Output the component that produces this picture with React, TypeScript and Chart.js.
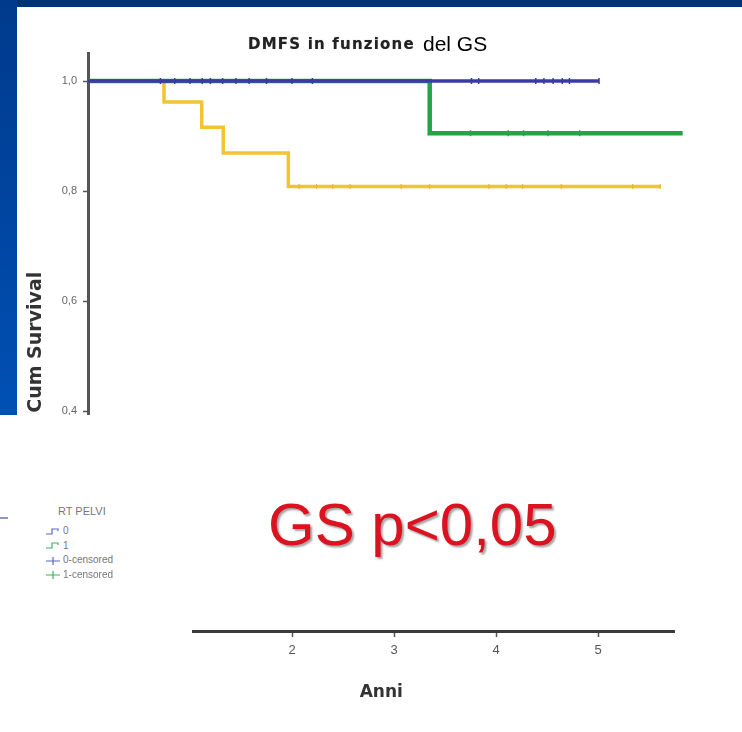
import React, { useEffect, useRef } from 'react';
import { Chart, registerables } from 'chart.js';

Chart.register(...registerables);

const FONT = '"Liberation Sans", Arial, sans-serif';
const BOLD_FONT = '"DejaVu Sans", sans-serif';

// Axis ticks
const yTickValues = [0, 0.2, 0.4, 0.6, 0.8, 1.0];
const xTickValues = [0, 1, 2, 3, 4, 5];

// Kaplan-Meier step curves (time in years, cumulative survival)
const blueTimes = [0, 5.01];
const blueSurv = [1, 1];
const greenTimes = [0, 3.35, 5.83];
const greenSurv = [1, 0.905, 0.905];
const yellowTimes = [0, 0.745, 1.115, 1.326, 1.964, 5.61];
const yellowSurv = [1, 0.962, 0.916, 0.869, 0.808, 0.808];

// Censoring times
const blueCensorTimes = [0.71, 0.85, 1.0, 1.12, 1.2, 1.32, 1.45, 1.58, 1.75, 2.0, 2.2, 3.76, 3.83, 4.39, 4.47, 4.56, 4.65, 4.72, 5.01];
const greenCensorTimes = [3.75, 4.12, 4.27, 4.51, 4.82];
const yellowCensorTimes = [2.07, 2.24, 2.4, 2.57, 3.07, 3.35, 3.93, 4.1, 4.26, 4.64, 5.34, 5.61];

const BLUE = '#3a3aa6';
const GREEN = '#22a447';
const YELLOW = '#f3c332';

function curve(times: number[], surv: number[]) {
  return times.map((t, i) => ({ x: t, y: surv[i] }));
}

function survAt(times: number[], surv: number[], t: number) {
  let s = surv[0];
  for (let i = 0; i < times.length; i++) {
    if (times[i] <= t) s = surv[i];
  }
  return s;
}

function censor(times: number[], surv: number[], cts: number[]) {
  return cts.map((t) => ({ x: t, y: survAt(times, surv, t) }));
}

function StepIcon({ color }: { color: string }) {
  return (
    <svg width="15" height="9" style={{ display: 'inline-block', verticalAlign: 'middle', marginRight: 2 }}>
      <path d="M0,7 H6 V2 H12 V4" stroke={color} strokeWidth="1.2" fill="none" />
    </svg>
  );
}

function CensorIcon({ color }: { color: string }) {
  return (
    <svg width="15" height="9" style={{ display: 'inline-block', verticalAlign: 'middle', marginRight: 2 }}>
      <path d="M0,5 H14 M7,1 V9" stroke={color} strokeWidth="1.2" fill="none" />
    </svg>
  );
}

export default function App() {
  const ref = useRef<HTMLCanvasElement | null>(null);

  useEffect(() => {
    document.body.style.margin = '0';
    if (!ref.current) return;
    const chart = new Chart(ref.current, {
      type: 'scatter',
      data: {
        datasets: [
          {
            label: '0',
            data: curve(blueTimes, blueSurv),
            showLine: true,
            stepped: 'before',
            borderColor: BLUE,
            borderWidth: 3.5,
            pointRadius: 0,
            order: 1,
          },
          {
            label: '0-censored',
            data: censor(blueTimes, blueSurv, blueCensorTimes),
            showLine: false,
            pointStyle: 'line',
            rotation: 90,
            pointRadius: 3,
            borderColor: BLUE,
            backgroundColor: BLUE,
            borderWidth: 1.5,
            order: 0,
          },
          {
            label: '1',
            data: curve(greenTimes, greenSurv),
            showLine: true,
            stepped: 'before',
            borderColor: GREEN,
            borderWidth: 4.5,
            pointRadius: 0,
            clip: false,
            order: 3,
          },
          {
            label: '1-censored',
            data: censor(greenTimes, greenSurv, greenCensorTimes),
            showLine: false,
            pointStyle: 'line',
            rotation: 90,
            pointRadius: 3,
            borderColor: GREEN,
            backgroundColor: GREEN,
            borderWidth: 1.5,
            order: 2,
          },
          {
            label: '2',
            data: curve(yellowTimes, yellowSurv),
            showLine: true,
            stepped: 'before',
            borderColor: YELLOW,
            borderWidth: 3.5,
            pointRadius: 0,
            order: 5,
          },
          {
            label: '2-censored',
            data: censor(yellowTimes, yellowSurv, yellowCensorTimes),
            showLine: false,
            pointStyle: 'line',
            rotation: 90,
            pointRadius: 2.5,
            borderColor: '#e8b830',
            backgroundColor: '#e8b830',
            borderWidth: 1.2,
            order: 4,
          },
        ],
      },
      options: {
        animation: false,
        responsive: false,
        maintainAspectRatio: false,
        layout: { padding: { top: 53.5, right: 67.5, bottom: 0, left: 0 } },
        plugins: {
          legend: { display: false },
          tooltip: { enabled: false },
          title: { display: false },
        },
        scales: {
          x: {
            type: 'linear',
            min: 0,
            max: 5.75,
            afterBuildTicks: (s: any) => {
              s.ticks = xTickValues.map((v) => ({ value: v }));
            },
            afterFit: (s: any) => {
              s.height = 101;
            },
            grid: {
              display: true,
              drawOnChartArea: false,
              drawTicks: true,
              tickLength: 6,
              tickWidth: 1.5,
              tickColor: '#555',
            },
            border: { display: true, color: '#3a3a3a', width: 3 },
            ticks: {
              color: '#555',
              font: { size: 13, family: FONT },
              padding: 6,
              maxRotation: 0,
              autoSkip: false,
              callback: (v: any) => String(v),
            },
            title: {
              display: true,
              text: 'Anni',
              color: '#333',
              font: { size: 17, weight: 'bold', family: BOLD_FONT },
              padding: { top: 0, bottom: 29 },
            },
          },
          y: {
            type: 'linear',
            min: 0,
            max: 1.05,
            afterBuildTicks: (s: any) => {
              s.ticks = yTickValues.map((v) => ({ value: v }));
            },
            afterFit: (s: any) => {
              s.width = 88;
            },
            grid: {
              display: true,
              drawOnChartArea: false,
              drawTicks: true,
              tickLength: 5,
              tickWidth: 1.5,
              tickColor: '#555',
            },
            border: { display: true, color: '#555', width: 3 },
            ticks: {
              color: '#666',
              font: { size: 11, family: FONT },
              padding: 6,
              callback: (v: any) => Number(v).toFixed(1).replace('.', ','),
            },
            title: {
              display: true,
              text: 'Cum Survival',
              color: '#333',
              font: { size: 19, weight: 'bold', family: BOLD_FONT },
              padding: { top: 25, bottom: 0 },
            },
          },
        },
      },
    } as any);
    return () => chart.destroy();
  }, []);

  const abs = (s: React.CSSProperties): React.CSSProperties => ({ position: 'absolute', ...s });

  return (
    <div style={{ position: 'relative', width: 742, height: 732, overflow: 'hidden', background: '#fff', fontFamily: FONT }}>
      <canvas ref={ref} width={742} height={732} style={{ position: 'absolute', left: 0, top: 0 }} />
      {/* white covers */}
      <div style={abs({ left: 0, top: 415, width: 742, height: 213, background: '#fff' })} />
      <div style={abs({ left: 0, top: 620, width: 192, height: 112, background: '#fff' })} />
      <div style={abs({ left: 0, top: 638, width: 197, height: 94, background: '#fff' })} />
      {/* slide frame */}
      <div style={abs({ left: 0, top: 0, width: 742, height: 7, background: '#003278' })} />
      <div style={abs({ left: 0, top: 0, width: 17, height: 415, background: 'linear-gradient(#003a8c, #0050b4)' })} />
      <div style={abs({ left: 0, top: 517, width: 8, height: 2, background: '#8a9ac8' })} />
      {/* title */}
      <div style={abs({ left: 248, top: 35, fontFamily: BOLD_FONT, fontWeight: 'bold', fontSize: 15, letterSpacing: '1.2px', color: '#222', whiteSpace: 'nowrap', lineHeight: '18px', textShadow: '0 0 1px rgba(0,0,0,0.4)' })}>
        DMFS in funzione
      </div>
      <div style={abs({ left: 423, top: 32, fontSize: 21, color: '#000', whiteSpace: 'nowrap', lineHeight: '24px' })}>del GS</div>
      {/* legend */}
      <div style={abs({ left: 58, top: 504, fontSize: 11, color: '#777', whiteSpace: 'nowrap', lineHeight: '14px' })}>RT PELVI</div>
      <div style={abs({ left: 46, top: 524, fontSize: 10, color: '#777', whiteSpace: 'nowrap', lineHeight: '14.5px' })}>
        <div><StepIcon color="#5a66c4" />0</div>
        <div><StepIcon color="#45b062" />1</div>
        <div><CensorIcon color="#5a66c4" />0-censored</div>
        <div><CensorIcon color="#45b062" />1-censored</div>
      </div>
      {/* p-value */}
      <div style={abs({ left: 268, top: 495, fontSize: 60, color: '#dc1220', whiteSpace: 'nowrap', lineHeight: '60px', textShadow: '2px 2px 2px rgba(90,90,90,0.55)' })}>
        GS p&lt;0,05
      </div>
    </div>
  );
}
